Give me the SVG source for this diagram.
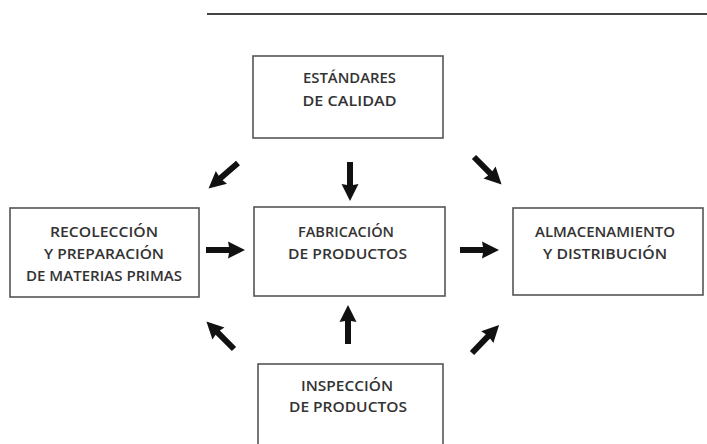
<svg xmlns="http://www.w3.org/2000/svg" width="707" height="444" viewBox="0 0 707 444">
<defs>
<style>
.box{fill:#fff;stroke:#555;stroke-width:1.6}
.t{font-family:"Open Sans","Liberation Sans",sans-serif;font-weight:600;font-size:14px;fill:#333;text-anchor:middle}
.arr{fill:#111}
</style>
<path id="arrow" d="M0,-3 L23,-3 L22,-8.5 L39,0 L22,8.5 L23,3 L0,3 Z"/>
</defs>
<rect width="707" height="444" fill="#fff"/>
<line x1="207" y1="14" x2="707" y2="14" stroke="#444" stroke-width="2"/>
<g id="estandares">
<rect class="box" x="253" y="56" width="190" height="82"/>
<text class="t" x="349.5" y="83" textLength="93" lengthAdjust="spacingAndGlyphs">ESTÁNDARES</text>
<text class="t" x="349.5" y="106" textLength="94" lengthAdjust="spacingAndGlyphs">DE CALIDAD</text>
</g>
<g id="recoleccion">
<rect class="box" x="10" y="208" width="189" height="89"/>
<text class="t" x="104" y="237" textLength="108" lengthAdjust="spacingAndGlyphs">RECOLECCIÓN</text>
<text class="t" x="104" y="259" textLength="120" lengthAdjust="spacingAndGlyphs">Y PREPARACIÓN</text>
<text class="t" x="104" y="281" textLength="156" lengthAdjust="spacingAndGlyphs">DE MATERIAS PRIMAS</text>
</g>
<g id="fabricacion">
<rect class="box" x="254" y="207" width="191" height="89"/>
<text class="t" x="346" y="237" textLength="96" lengthAdjust="spacingAndGlyphs">FABRICACIÓN</text>
<text class="t" x="347.5" y="259" textLength="119" lengthAdjust="spacingAndGlyphs">DE PRODUCTOS</text>
</g>
<g id="almacenamiento">
<rect class="box" x="513" y="208" width="190" height="87"/>
<text class="t" x="605" y="237" textLength="140" lengthAdjust="spacingAndGlyphs">ALMACENAMIENTO</text>
<text class="t" x="605" y="259" textLength="124" lengthAdjust="spacingAndGlyphs">Y DISTRIBUCIÓN</text>
</g>
<g id="inspeccion">
<rect class="box" x="258" y="364" width="185" height="90"/>
<text class="t" x="347" y="391" textLength="92" lengthAdjust="spacingAndGlyphs">INSPECCIÓN</text>
<text class="t" x="348" y="412" textLength="118" lengthAdjust="spacingAndGlyphs">DE PRODUCTOS</text>
</g>
<g id="connectors" class="arr">
<use href="#arrow" transform="translate(206,250) rotate(0)"/>
<use href="#arrow" transform="translate(460,250) rotate(0)"/>
<use href="#arrow" transform="translate(350,162) rotate(90)"/>
<use href="#arrow" transform="translate(238,163) rotate(139)"/>
<use href="#arrow" transform="translate(474,157) rotate(45)"/>
<use href="#arrow" transform="translate(348,344) rotate(-90)"/>
<use href="#arrow" transform="translate(234,349) rotate(-135)"/>
<use href="#arrow" transform="translate(472,353) rotate(-46)"/>
</g>
</svg>
